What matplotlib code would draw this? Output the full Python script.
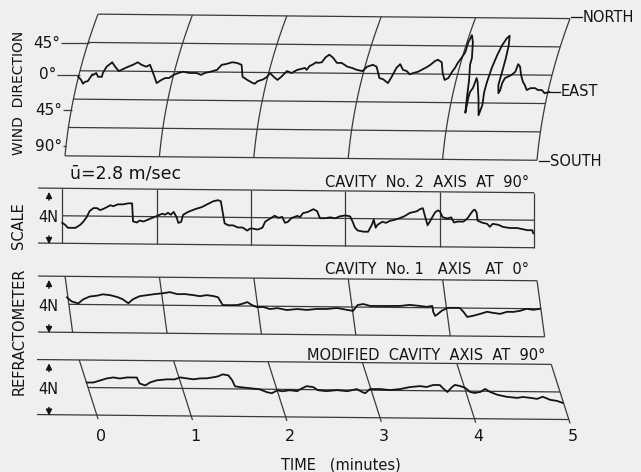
import numpy as np
from matplotlib import pyplot as plt
import matplotlib.transforms as mtransforms

# Size of the original scan, in pixels
W, H = 641, 472
T0_PX = 100          # column of t = 0 min
PX_PER_MIN = 94.4    # chart speed
TILT = 0.0094        # the scanned paper runs slightly downhill to the right

BG = "#efefef"
INK = "#141414"
GRID = "#3a3a3a"

# Wind direction trace (chart time in minutes, direction in degrees)
WIND_T = [-0.23, -0.20, -0.18, -0.16, -0.13, -0.08, -0.07, -0.04, -0.02, 0.02,
          0.03, 0.07, 0.13, 0.16, 0.20, 0.24, 0.30, 0.35, 0.40, 0.44,
          0.49, 0.53, 0.55, 0.57, 0.60, 0.65, 0.69, 0.73, 0.78, 0.83,
          0.88, 0.95, 1.02, 1.07, 1.11, 1.17, 1.24, 1.29, 1.33, 1.40,
          1.45, 1.50, 1.51, 1.56, 1.62, 1.64, 1.67, 1.73, 1.77, 1.80,
          1.84, 1.88, 1.92, 1.96, 1.98, 2.03, 2.09, 2.12, 2.17, 2.19,
          2.22, 2.26, 2.29, 2.31, 2.35, 2.39, 2.43, 2.47, 2.51, 2.56,
          2.62, 2.67, 2.72, 2.78, 2.83, 2.89, 2.93, 2.96, 3.00, 3.05,
          3.09, 3.14, 3.18, 3.21, 3.25, 3.28, 3.32, 3.37, 3.42, 3.47,
          3.50, 3.55, 3.58, 3.62, 3.63, 3.65, 3.69, 3.73, 3.76, 3.79,
          3.83, 3.87, 3.90, 3.94, 3.95, 3.94, 3.92, 3.91, 3.89, 3.87,
          3.90, 3.92, 3.95, 3.99, 4.00, 4.01, 4.01, 4.05, 4.07, 4.10,
          4.15, 4.21, 4.26, 4.31, 4.34, 4.33, 4.30, 4.26, 4.22, 4.22,
          4.24, 4.26, 4.29, 4.32, 4.36, 4.40, 4.43, 4.45, 4.46, 4.48,
          4.50, 4.52, 4.56, 4.61, 4.64, 4.68, 4.71, 4.76]
WIND_DEG = [-6, -11, -17, -14, -13, -2, -3, 0, -6, -6,
            0, 10, 17, 10, 3, 6, 10, 13, 17, 13,
            10, 13, 5, -3, -16, -11, -8, -8, -3, 0,
            2, 0, 0, -3, 0, 2, 5, 13, 14, 17,
            16, 13, -6, -11, -16, -17, -13, -10, -6, 0,
            -6, -11, -6, 0, 3, 0, 5, 6, 8, 5,
            11, 14, 17, 16, 17, 25, 29, 24, 16, 16,
            10, 8, 5, 3, 10, 13, 10, -8, -10, -16,
            -6, 8, 14, 5, 3, -2, 0, 2, 6, 10,
            13, 19, 21, 17, 0, -11, -8, 2, 8, 16,
            24, 33, 48, 60, 49, 24, 13, -11, -35, -63,
            -40, -30, -24, -8, -14, -43, -67, -51, -30, -14,
            8, 29, 44, 55, 59, 44, 24, 2, -19, -32,
            -27, -16, -8, -6, -3, 2, 14, 10, -3, -14,
            -19, -27, -24, -24, -27, -27, -32, -30]

# Refractometer, cavity No. 2 (N units)
CAV2_T = [-0.40, -0.37, -0.34, -0.30, -0.26, -0.21, -0.18, -0.14, -0.11, -0.07,
          -0.03, 0.00, 0.03, 0.07, 0.11, 0.14, 0.19, 0.24, 0.30, 0.34,
          0.35, 0.39, 0.42, 0.46, 0.51, 0.56, 0.61, 0.66, 0.69, 0.72,
          0.75, 0.78, 0.81, 0.83, 0.86, 0.88, 0.93, 1.01, 1.08, 1.14,
          1.20, 1.25, 1.28, 1.32, 1.36, 1.41, 1.46, 1.51, 1.56, 1.59,
          1.62, 1.67, 1.72, 1.75, 1.80, 1.85, 1.89, 1.93, 1.96, 1.99,
          2.03, 2.09, 2.12, 2.15, 2.20, 2.26, 2.30, 2.33, 2.38, 2.44,
          2.49, 2.54, 2.60, 2.65, 2.68, 2.70, 2.73, 2.79, 2.84, 2.88,
          2.90, 2.92, 2.94, 2.99, 3.03, 3.07, 3.12, 3.18, 3.23, 3.28,
          3.32, 3.36, 3.39, 3.42, 3.44, 3.47, 3.49, 3.52, 3.55, 3.58,
          3.60, 3.63, 3.68, 3.72, 3.75, 3.79, 3.85, 3.89, 3.92, 3.95,
          3.97, 3.99, 4.00, 4.05, 4.10, 4.13, 4.16, 4.22, 4.27, 4.34,
          4.42, 4.47, 4.53, 4.58, 4.59]
CAV2_N = [-0.51, -0.65, -0.87, -0.87, -0.87, -0.65, -0.44, -0.07, 0.36, 0.58,
          0.58, 0.44, 0.51, 0.65, 0.80, 0.73, 0.87, 0.87, 0.95, 0.95,
          -0.36, -0.44, -0.29, -0.36, -0.22, -0.07, 0.07, 0.22, 0.15, 0.29,
          0.15, 0.36, 0.00, -0.44, -0.36, 0.15, 0.36, 0.58, 0.73, 0.95,
          1.16, 1.24, 1.16, -0.44, -0.58, -0.58, -0.73, -0.73, -0.95, -0.80,
          -0.80, -0.87, -0.73, -0.29, -0.07, 0.15, 0.00, 0.07, -0.36, -0.29,
          0.00, 0.15, 0.07, 0.36, 0.44, 0.65, 0.51, 0.00, 0.00, 0.07,
          0.00, 0.15, 0.22, 0.15, -0.29, -0.65, -0.87, -0.95, -0.95, -0.44,
          -0.07, -0.65, -0.44, -0.22, -0.29, -0.15, -0.07, 0.07, 0.22, 0.44,
          0.51, 0.58, 0.73, 0.80, 0.29, -0.44, -0.22, 0.15, 0.51, 0.65,
          0.58, 0.15, 0.07, 0.15, -0.22, -0.15, -0.15, 0.07, 0.36, 0.65,
          0.73, 0.51, -0.07, -0.22, -0.29, -0.51, -0.29, -0.36, -0.51, -0.58,
          -0.58, -0.65, -0.73, -0.73, -0.95]

# Refractometer, cavity No. 1
CAV1_T = [-0.35, -0.30, -0.23, -0.18, -0.11, -0.03, 0.03, 0.11, 0.19, 0.24,
          0.30, 0.35, 0.42, 0.50, 0.58, 0.67, 0.74, 0.82, 0.90, 0.99,
          1.06, 1.13, 1.20, 1.25, 1.30, 1.38, 1.45, 1.50, 1.56, 1.61,
          1.66, 1.73, 1.80, 1.88, 1.98, 2.09, 2.19, 2.30, 2.40, 2.51,
          2.62, 2.68, 2.73, 2.79, 2.86, 2.97, 3.07, 3.18, 3.28, 3.39,
          3.46, 3.52, 3.53, 3.55, 3.58, 3.62, 3.68, 3.74, 3.81, 3.85,
          3.89, 3.95, 4.03, 4.10, 4.16, 4.24, 4.31, 4.38, 4.45, 4.52,
          4.59, 4.66]
CAV1_N = [0.50, 0.21, 0.07, 0.36, 0.57, 0.64, 0.74, 0.68, 0.54, 0.40,
          0.12, 0.41, 0.63, 0.71, 0.79, 0.86, 0.94, 0.80, 0.81, 0.74,
          0.67, 0.75, 0.69, 0.61, 0.05, 0.05, 0.06, 0.14, 0.28, 0.07,
          -0.07, -0.06, -0.20, -0.13, -0.26, -0.18, -0.24, -0.16, -0.16, -0.08,
          -0.21, -0.28, 0.15, 0.22, 0.09, 0.09, 0.10, 0.11, 0.19, 0.12,
          0.06, 0.13, -0.29, -0.58, -0.44, -0.21, 0.00, 0.01, 0.01, -0.27,
          -0.63, -0.55, -0.40, -0.25, -0.32, -0.39, -0.24, -0.24, -0.16, -0.01,
          -0.08, 0.00]

# Refractometer, modified cavity
MOD_T = [-0.14, -0.07, 0.00, 0.07, 0.14, 0.21, 0.29, 0.35, 0.39, 0.42,
         0.48, 0.53, 0.60, 0.71, 0.79, 0.85, 0.92, 0.99, 1.06, 1.13,
         1.20, 1.25, 1.30, 1.36, 1.40, 1.43, 1.50, 1.59, 1.69, 1.77,
         1.82, 1.88, 1.93, 2.01, 2.09, 2.14, 2.19, 2.26, 2.31, 2.40,
         2.51, 2.62, 2.72, 2.78, 2.81, 2.86, 2.97, 3.07, 3.18, 3.28,
         3.39, 3.46, 3.53, 3.60, 3.63, 3.68, 3.73, 3.76, 3.81, 3.87,
         3.92, 3.97, 4.03, 4.08, 4.13, 4.21, 4.31, 4.42, 4.48, 4.56,
         4.63, 4.69, 4.77, 4.84, 4.90]
MOD_N = [0.36, 0.37, 0.52, 0.67, 0.75, 0.68, 0.76, 0.76, 0.76, 0.33,
         0.19, 0.41, 0.57, 0.65, 0.65, 0.80, 0.73, 0.67, 0.74, 0.75,
         0.83, 0.90, 1.05, 0.98, 0.63, 0.19, 0.12, 0.06, -0.01, -0.22,
         -0.29, -0.07, -0.14, -0.06, -0.12, 0.09, 0.25, 0.18, -0.04, -0.10,
         -0.02, -0.09, 0.07, -0.15, -0.22, 0.08, 0.09, 0.02, 0.10, 0.25,
         0.33, 0.27, 0.42, 0.42, 0.21, -0.08, 0.29, 0.44, 0.37, 0.23,
         -0.06, -0.13, -0.05, 0.17, -0.04, -0.25, -0.39, -0.46, -0.39, -0.45,
         -0.52, -0.36, -0.58, -0.65, -0.79]

TIME_TICKS = [0, 1, 2, 3, 4, 5]
WIND_LEVELS = [90, 45, 0, -45, -90, -135]
WIND_TICKS = [47, -3, -59, -116]
WIND_TICK_LABELS = ["45°", "0°", "45°", "90°"]
WIND_TICK_START_PX = [61, 57, 63, 63]
COMPASS = ["NORTH", "EAST", "SOUTH"]
COMPASS_DEG = [88, -30, -140]

plt.rcParams["font.family"] = "DejaVu Sans"

fig = plt.figure(figsize=(W / 100, H / 100), dpi=100, facecolor=BG)
grid_kw = dict(color=GRID, lw=0.9, solid_capstyle="butt")
trace_kw = dict(color=INK, lw=1.3, solid_joinstyle="round")


def px_to_t(x):
    return (x - T0_PX) / PX_PER_MIN


def fig_text(x, y, s, **kw):
    kw.setdefault("color", INK)
    fig.text(x / W, 1 - y / H, s, **kw)


def panel(zero_row, px_per_unit, pivot=2.1):
    # full-figure axes; row of value 0 and pixel size of one unit
    ax = fig.add_axes([0, 0, 1, 1])
    ax.set_xlim(px_to_t(0), px_to_t(W))
    ax.set_ylim((zero_row - H) / px_per_unit, zero_row / px_per_unit)
    ax.axis("off")
    slope = -TILT * PX_PER_MIN / px_per_unit
    tilt = (mtransforms.Affine2D().translate(-pivot, 0)
            .skew(0, np.arctan(slope)).translate(pivot, 0) + ax.transData)
    return ax, tilt


def scale_marker(ax):
    x = px_to_t(49)
    ax.text(x - 0.01, 0, "4N", ha="center", va="center", fontsize=10.5, color=INK)
    for s in (1, -1):
        ax.annotate("", xy=(x, 2 * s), xytext=(x, 1.3 * s),
                    arrowprops=dict(arrowstyle="-|>", color=INK, lw=1.0,
                                    mutation_scale=9, shrinkA=0, shrinkB=1))


# --- wind direction (curvilinear chart) ---
ax1, tilt1 = panel(73, 28.4 / 45, pivot=2.3)


def arc_t(k, deg):
    u = (90 - np.asarray(deg, float)) / 225
    return k + (-2 - 53 * u + 20 * u ** 2) / PX_PER_MIN


d = np.linspace(-135, 90, 60)
for k in TIME_TICKS:
    ax1.plot(arc_t(k, d), d, transform=tilt1, **grid_kw)
for lev in WIND_LEVELS:
    ax1.plot([arc_t(0, lev), arc_t(5, lev)], [lev, lev], transform=tilt1, **grid_kw)
for deg, lab, xs in zip(WIND_TICKS, WIND_TICK_LABELS, WIND_TICK_START_PX):
    ax1.plot([px_to_t(xs), arc_t(0, deg)], [deg, deg], **grid_kw)
    ax1.text(px_to_t(xs - 1), deg, lab, ha="right", va="center", fontsize=11, color=INK)
for lab, deg in zip(COMPASS, COMPASS_DEG):
    x0 = arc_t(5, deg) + 0.02
    ax1.plot([x0, x0 + 0.11], [deg, deg], color=INK, lw=0.9)
    ax1.text(x0 + 0.12, deg, lab, ha="left", va="center", fontsize=10.5, color=INK)
ax1.plot(WIND_T, WIND_DEG, **trace_kw)

# --- cavity No. 2 (rectilinear chart) ---
left = px_to_t(38)
ax2, tilt2 = panel(218, 13.75)
for k in TIME_TICKS:
    ax2.plot([k - 0.4, k - 0.4], [-2, 2], transform=tilt2, **grid_kw)
ax2.plot([left, 4.6], [2, 2], transform=tilt2, **grid_kw)
ax2.plot([-0.4, 4.6], [0, 0], transform=tilt2, **grid_kw)
ax2.plot([left, 4.6], [-2, -2], transform=tilt2, **grid_kw)
scale_marker(ax2)
ax2.plot(CAV2_T, CAV2_N, transform=tilt2, **trace_kw)

# --- cavity No. 1 ---
ax3, tilt3 = panel(306.5, 14)
for k in TIME_TICKS:
    ax3.plot([k - 0.37, k - 0.29], [2, -2], transform=tilt3, **grid_kw)
ax3.plot([left, 4.63], [2, 2], transform=tilt3, **grid_kw)
ax3.plot([-0.33, 4.67], [0, 0], transform=tilt3, **grid_kw)
ax3.plot([left, 4.71], [-2, -2], transform=tilt3, **grid_kw)
scale_marker(ax3)
ax3.plot(CAV1_T, CAV1_N, transform=tilt3, **trace_kw)

# --- modified cavity, with the time scale ---
ax4, tilt4 = panel(389.5, 13.75)
n_end = -2.29


def slant(k, n):
    return k - 0.22 + (2 - n) / (2 - n_end) * 0.20


for k in TIME_TICKS:
    ax4.plot([slant(k, 2), slant(k, n_end)], [2, n_end], transform=tilt4, **grid_kw)
    ax4.text(k + 0.01, -3.45, str(k), ha="center", va="center", fontsize=11.5, color=INK)
ax4.plot([px_to_t(37), slant(5, 2)], [2, 2], transform=tilt4, **grid_kw)
ax4.plot([slant(0, 0), slant(5, 0)], [0, 0], transform=tilt4, **grid_kw)
ax4.plot([px_to_t(37), slant(5, -2)], [-2, -2], transform=tilt4, **grid_kw)
scale_marker(ax4)
ax4.plot(MOD_T, MOD_N, transform=tilt4, **trace_kw)

# --- lettering ---
fig_text(19, 93, "WIND  DIRECTION", rotation=90, ha="center", va="center", fontsize=10)
fig_text(19, 226, "SCALE", rotation=90, ha="center", va="center", fontsize=10.5)
fig_text(19, 331, "REFRACTOMETER", rotation=90, ha="center", va="center", fontsize=10.5)
fig_text(70, 173, "ū=2.8 m/sec", ha="left", va="center", fontsize=12.5)
fig_text(325, 182, "CAVITY  No. 2  AXIS  AT  90°", ha="left", va="center", fontsize=10.5)
fig_text(325, 269, "CAVITY  No. 1   AXIS   AT  0°", ha="left", va="center", fontsize=10.5)
fig_text(307, 355, "MODIFIED  CAVITY  AXIS  AT  90°", ha="left", va="center", fontsize=10.5)
fig_text(341, 465, "TIME   (minutes)", ha="center", va="center", fontsize=10.5)

fig.savefig("out.png", dpi=100, facecolor=fig.get_facecolor())
